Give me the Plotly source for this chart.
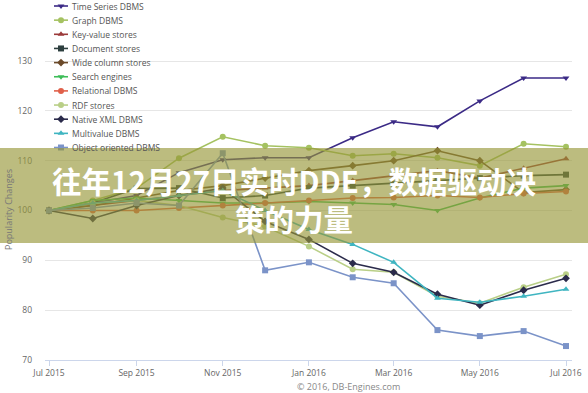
import plotly.graph_objects as go

# ---------------- data ----------------
months = ["2015-07-01", "2015-08-01", "2015-09-01", "2015-10-01", "2015-11-01",
          "2015-12-01", "2016-01-01", "2016-02-01", "2016-03-01", "2016-04-01",
          "2016-05-01", "2016-06-01", "2016-07-01"]

series_names = ["Time Series DBMS", "Graph DBMS", "Key-value stores", "Document stores",
                "Wide column stores", "Search engines", "Relational DBMS", "RDF stores",
                "Native XML DBMS", "Multivalue DBMS", "Object oriented DBMS"]

time_series     = [100, 101.5, 103.0, 107.6, 110.2, 110.6, 110.6, 114.6, 117.8, 116.8, 122.0, 126.6, 126.6]
graph_dbms      = [100, 102.0, 104.5, 110.5, 114.8, 113.0, 112.6, 111.0, 111.4, 110.6, 109.0, 113.4, 112.8]
key_value       = [100, 101.0, 102.0, 103.0, 104.0, 104.5, 105.0, 106.0, 107.0, 108.0, 106.5, 108.5, 110.4]
document_stores = [100, 101.5, 104.4, 104.5, 102.5, 103.0, 104.5, 105.0, 105.4, 106.0, 106.5, 107.0, 107.2]
wide_column     = [100, 101.0, 102.5, 104.0, 105.0, 106.5, 108.0, 109.0, 110.0, 112.0, 110.0, 103.6, 104.2]
search_engines  = [100, 102.0, 102.5, 102.0, 101.5, 101.5, 101.8, 101.5, 101.2, 100.0, 102.5, 104.5, 105.0]
relational      = [100, 100.0, 100.0, 100.5, 101.0, 101.5, 102.0, 102.5, 102.6, 103.0, 102.6, 103.4, 103.8]
rdf_stores      = [100, 101.5, 102.0, 101.0, 98.6, 96.8, 92.8, 88.2, 87.6, 82.8, 81.4, 84.6, 87.2]
native_xml      = [100, 98.4, 101.0, 103.0, 104.5, 97.8, 94.2, 89.4, 87.6, 83.2, 81.0, 84.0, 86.4]
multivalue      = [100, 101.5, 102.0, 103.0, 104.0, 100.0, 96.2, 93.2, 89.6, 82.4, 81.6, 82.8, 84.2]
object_oriented = [100, 100.5, 101.5, 101.0, 111.5, 88.0, 89.6, 86.6, 85.4, 76.0, 74.8, 75.8, 72.8]

all_values = [time_series, graph_dbms, key_value, document_stores, wide_column, search_engines,
              relational, rdf_stores, native_xml, multivalue, object_oriented]

y_tick_values = [70, 80, 90, 100, 110, 120, 130]
x_tick_values = ["2015-07-01", "2015-09-01", "2015-11-01", "2016-01-01", "2016-03-01",
                 "2016-05-01", "2016-07-01"]
x_tick_labels = ["Jul 2015", "Sep 2015", "Nov 2015", "Jan 2016", "Mar 2016", "May 2016", "Jul 2016"]

title_line1 = "往年12月27日实时DDE，数据驱动决"
title_line2 = "策的力量"
y_title = "Popularity Changes"
credits = "© 2016, DB-Engines.com"

# ---------------- styles ----------------
colors = ["#3b2a86", "#a5c261", "#9b3a3a", "#2c3e3e", "#6b4a2a", "#3dbd58",
          "#e0604a", "#b9cf87", "#2b2b4b", "#3fb5c1", "#7b93c8"]
symbols = ["triangle-down", "circle", "triangle-up", "square", "diamond", "triangle-down",
           "circle", "circle", "diamond", "triangle-up", "square"]

W, H = 588, 393
ML, MR, MT, MB = 45, 16, 2, 33
PW, PH = W - ML - MR, H - MT - MB
y_bottom_px = H - MB  # 360
px_per_unit = 4.983
y_top_val = 70 + PH / px_per_unit

fig = go.Figure()

for name, vals, c, s in zip(series_names, all_values, colors, symbols):
    fig.add_trace(go.Scatter(
        x=months, y=vals, mode="lines+markers", name=name,
        line=dict(color=c, width=1.6),
        marker=dict(color=c, size=6, symbol=s),
        showlegend=False, xaxis="x", yaxis="y"))

# manual legend (pixel coordinate overlay axes)
leg_x0, leg_x1, leg_mx, leg_tx = 54, 68, 61, 70
leg_y0, leg_dy = 6, 14.15
for i, (name, c, s) in enumerate(zip(series_names, colors, symbols)):
    yy = leg_y0 + leg_dy * i
    fig.add_trace(go.Scatter(
        x=[leg_x0, leg_x1], y=[yy, yy], mode="lines",
        line=dict(color=c, width=1.6), showlegend=False, hoverinfo="skip",
        xaxis="x2", yaxis="y2"))
    fig.add_trace(go.Scatter(
        x=[leg_mx], y=[yy], mode="markers",
        marker=dict(color=c, size=6, symbol=s), showlegend=False, hoverinfo="skip",
        xaxis="x2", yaxis="y2"))
    fig.add_annotation(x=leg_tx, y=yy, xref="x2", yref="y2", text=name, showarrow=False,
                       xanchor="left", yanchor="middle",
                       font=dict(family="Open Sans", size=8.5, color="#555555"))

def py(px):
    return (y_bottom_px - px) / PH

def pxx(px):
    return (px - ML) / PW

# banner
fig.add_shape(type="rect", xref="paper", yref="paper",
              x0=pxx(-2), x1=pxx(W + 2), y0=py(243), y1=py(148),
              fillcolor="rgba(150,150,55,0.64)", line=dict(width=0), layer="above")
fig.add_annotation(xref="paper", yref="paper", x=pxx(294), y=py(198.5),
                   text="<b>" + title_line1 + "<br>" + title_line2 + "</b>",
                   showarrow=False, xanchor="center", yanchor="middle", align="center",
                   font=dict(family="Noto Sans CJK SC", size=29.5, color="white"))

# y title & credits
fig.add_annotation(xref="paper", yref="paper", x=pxx(8), y=py(210), text=y_title, textangle=-90,
                   showarrow=False, xanchor="center", yanchor="middle",
                   font=dict(family="Open Sans", size=9, color="#777777"))
fig.add_annotation(xref="paper", yref="paper", x=pxx(295), y=py(386), text=credits,
                   showarrow=False, xanchor="left", yanchor="middle",
                   font=dict(family="Open Sans", size=9, color="#888888"))

fig.update_layout(
    width=W, height=H, margin=dict(l=ML, r=MR, t=MT, b=MB),
    paper_bgcolor="white", plot_bgcolor="white",
    xaxis=dict(type="date", range=["2015-06-28 04:00", "2016-07-05 06:00"],
               tickvals=x_tick_values, ticktext=x_tick_labels,
               showgrid=False, zeroline=False,
               showline=True, linecolor="#ccd6eb", linewidth=1,
               ticks="outside", ticklen=5, tickcolor="#ccd6eb",
               tickfont=dict(family="Open Sans", size=8.5, color="#666666")),
    yaxis=dict(range=[70, y_top_val], tickvals=y_tick_values,
               showgrid=True, gridcolor="#e6e6e6", gridwidth=1, zeroline=False,
               showline=False, ticks="", ticklabelstandoff=12,
               tickfont=dict(family="Open Sans", size=8.5, color="#666666")),
    xaxis2=dict(overlaying="x", anchor="y2", range=[ML, W - MR], visible=False),
    yaxis2=dict(overlaying="y", anchor="x2", range=[y_bottom_px, MT], visible=False),
)

fig.write_html("out.html", config={"displayModeBar": False},
               post_script="document.body.style.margin='0';document.body.style.padding='0';"
                           "document.body.style.overflow='hidden';")
